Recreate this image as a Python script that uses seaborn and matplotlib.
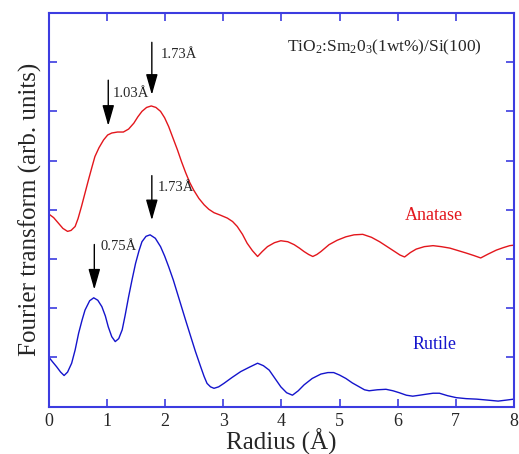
import pandas as pd
import matplotlib
matplotlib.use('Agg')
import matplotlib.pyplot as plt
import seaborn as sns

# Anatase curve
anatase_r = [0.00, 0.08, 0.16, 0.24, 0.32, 0.38, 0.45, 0.50, 0.56, 0.62, 0.68, 0.74, 0.79, 0.86,
             0.94, 1.01, 1.08, 1.18, 1.28, 1.37, 1.46, 1.53, 1.60, 1.68, 1.76, 1.84, 1.92, 1.99,
             2.06, 2.13, 2.21, 2.28, 2.35, 2.42, 2.49, 2.58, 2.67, 2.75, 2.84, 2.95, 3.07, 3.16,
             3.24, 3.33, 3.41, 3.50, 3.59, 3.67, 3.76, 3.88, 3.99, 4.11, 4.22, 4.31, 4.39, 4.47,
             4.54, 4.61, 4.68, 4.75, 4.82, 4.96, 5.11, 5.25, 5.40, 5.55, 5.69, 5.82, 5.95, 6.04,
             6.12, 6.22, 6.32, 6.46, 6.61, 6.75, 6.90, 7.04, 7.18, 7.31, 7.43, 7.56, 7.70, 7.82,
             7.93, 8.00]
anatase_ft = [3.91, 3.84, 3.73, 3.62, 3.56, 3.58, 3.66, 3.82, 4.07, 4.34, 4.61, 4.87, 5.08, 5.26,
              5.42, 5.52, 5.56, 5.58, 5.58, 5.64, 5.76, 5.89, 6.00, 6.08, 6.11, 6.08, 6.00, 5.87,
              5.69, 5.47, 5.22, 4.98, 4.76, 4.56, 4.40, 4.23, 4.10, 4.01, 3.94, 3.89, 3.83, 3.76,
              3.66, 3.50, 3.32, 3.17, 3.05, 3.15, 3.25, 3.33, 3.37, 3.35, 3.29, 3.22, 3.15, 3.09,
              3.05, 3.09, 3.15, 3.22, 3.29, 3.38, 3.45, 3.49, 3.50, 3.44, 3.35, 3.25, 3.15, 3.08,
              3.04, 3.13, 3.20, 3.25, 3.27, 3.25, 3.22, 3.17, 3.12, 3.07, 3.02, 3.10, 3.18, 3.23,
              3.27, 3.28]

# Rutile curve
rutile_r = [0.00, 0.06, 0.13, 0.20, 0.26, 0.32, 0.39, 0.45, 0.51, 0.57, 0.62, 0.70, 0.77, 0.84,
            0.91, 0.97, 1.02, 1.08, 1.14, 1.20, 1.26, 1.31, 1.37, 1.43, 1.49, 1.55, 1.60, 1.67,
            1.74, 1.83, 1.92, 1.99, 2.06, 2.14, 2.21, 2.28, 2.35, 2.44, 2.52, 2.61, 2.67, 2.72,
            2.78, 2.84, 2.92, 3.01, 3.15, 3.30, 3.45, 3.59, 3.69, 3.79, 3.89, 3.99, 4.09, 4.19,
            4.29, 4.39, 4.53, 4.68, 4.80, 4.90, 5.00, 5.11, 5.22, 5.34, 5.43, 5.51, 5.65, 5.80,
            5.92, 6.03, 6.15, 6.26, 6.38, 6.49, 6.61, 6.72, 6.86, 7.01, 7.18, 7.36, 7.55, 7.73,
            7.87, 8.00]
rutile_ft = [1.00, 0.91, 0.81, 0.70, 0.63, 0.70, 0.88, 1.15, 1.49, 1.76, 1.96, 2.15, 2.21, 2.16,
             2.03, 1.84, 1.62, 1.42, 1.32, 1.38, 1.56, 1.85, 2.23, 2.58, 2.91, 3.17, 3.35, 3.46,
             3.49, 3.42, 3.25, 3.06, 2.84, 2.57, 2.30, 2.03, 1.76, 1.42, 1.12, 0.81, 0.61, 0.47,
             0.40, 0.37, 0.40, 0.47, 0.59, 0.71, 0.80, 0.88, 0.83, 0.74, 0.57, 0.40, 0.28, 0.23,
             0.32, 0.44, 0.57, 0.66, 0.69, 0.69, 0.64, 0.57, 0.48, 0.40, 0.34, 0.32, 0.34, 0.35,
             0.32, 0.28, 0.23, 0.21, 0.23, 0.25, 0.27, 0.27, 0.22, 0.18, 0.16, 0.15, 0.13, 0.11,
             0.13, 0.15]

# peak markers: label, x, arrow top, arrow tip
peak_labels = ['1.73Å', '1.03Å', '1.73Å', '0.75Å']
peak_x = [1.77, 1.02, 1.77, 0.78]
peak_top = [7.46, 6.69, 4.75, 3.35]
peak_tip = [6.28, 5.65, 3.73, 2.32]
label_pos = [(1.92, 7.15), (1.09, 6.36), (1.87, 4.45), (0.89, 3.25)]

red = '#e3161c'
blue = '#1414cc'
axis_blue = '#3c3ce0'

sns.set_style('ticks')
plt.rcParams['font.family'] = ['Liberation Serif', 'DejaVu Serif']
plt.rcParams['mathtext.fontset'] = 'custom'
plt.rcParams['mathtext.rm'] = 'Liberation Serif'
plt.rcParams['mathtext.default'] = 'regular'

fig = plt.figure(figsize=(5.19, 4.54), dpi=100)
ax = fig.add_axes([0.0944, 0.1046, 0.8956, 0.8668])

df_a = pd.DataFrame({'r': anatase_r, 'ft': anatase_ft})
df_r = pd.DataFrame({'r': rutile_r, 'ft': rutile_ft})
sns.lineplot(data=df_a, x='r', y='ft', color=red, lw=1.0, ax=ax, sort=False)
sns.lineplot(data=df_r, x='r', y='ft', color=blue, lw=1.0, ax=ax, sort=False)

ax.set_xlim(0, 8)
ax.set_ylim(0, 8)
ax.set_xticks(range(0, 9))
ax.set_yticks(range(0, 9))
ax.set_yticklabels([])
ax.tick_params(direction='in', length=6, width=1.2, color=axis_blue,
               top=True, right=True, labelsize=13, pad=5)
for sp in ax.spines.values():
    sp.set_visible(True)
    sp.set_color(axis_blue)
    sp.set_linewidth(1.5)

ax.set_xlabel('Radius (Å)', fontsize=18, labelpad=-1)
ax.set_ylabel('Fourier transform (arb. units)', fontsize=18, labelpad=0)

for lab, x, top, tip, pos in zip(peak_labels, peak_x, peak_top, peak_tip, label_pos):
    ax.annotate('', xy=(x, tip), xytext=(x, top),
                arrowprops=dict(arrowstyle='-|>,head_length=0.7,head_width=0.2',
                                color='black', lw=1.0, mutation_scale=18))
    ax.text(pos[0], pos[1], lab, fontsize=10.5, va='center', ha='left')

ax.text(4.10, 7.30, 'TiO$_2$:Sm$_2$0$_3$(1wt%)/Si(100)', fontsize=12.5, va='center', ha='left')
ax.text(6.13, 3.88, 'Anatase', color=red, fontsize=13, va='center', ha='left')
ax.text(6.26, 1.27, 'Rutile', color=blue, fontsize=13, va='center', ha='left')

fig.savefig('out.png', dpi=100)
